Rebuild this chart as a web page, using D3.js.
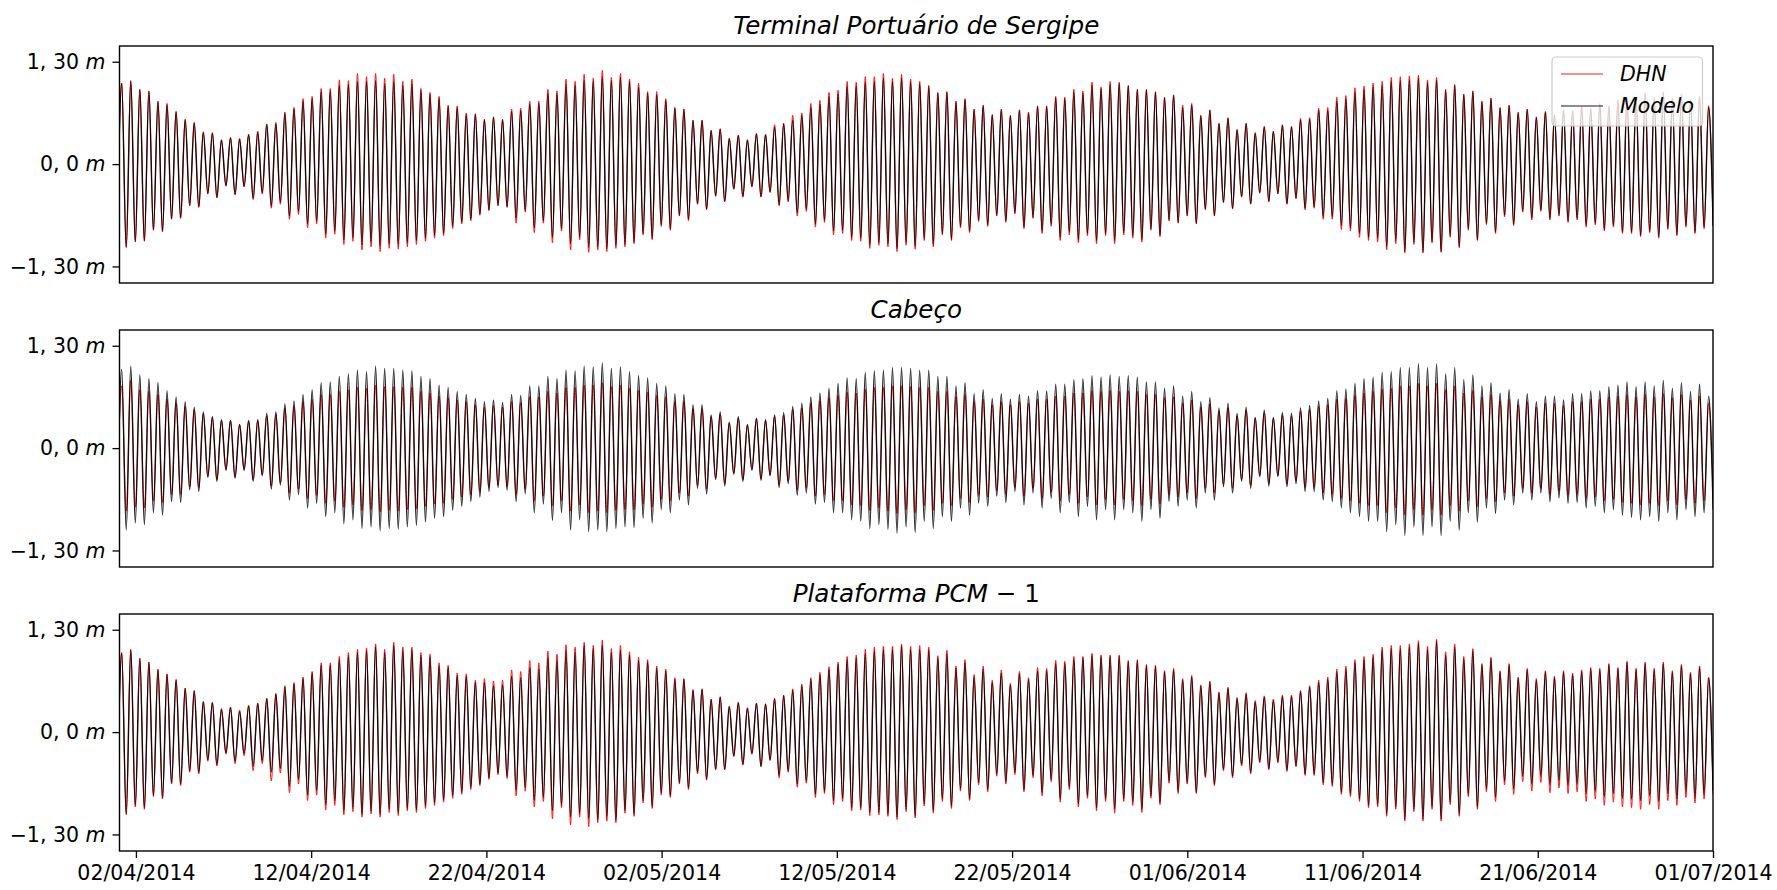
<!DOCTYPE html>
<html><head><meta charset="utf-8">
<script src="https://cdn.jsdelivr.net/npm/d3@7"></script>
<style>body{margin:0;background:#fff}svg{display:block}</style>
</head><body><svg id="c" width="1777" height="890"></svg>
<script>
// ---------------- DATA ----------------
const stationTitles = ["Terminal Portuário de Sergipe", "Cabeço", "Plataforma PCM − 1"];
const seriesNames = ["DHN", "Modelo"];
const yTickValues = [-1.3, 0, 1.3];
const yTickLabels = ["−1, 30 ", "0, 0 ", "1, 30 "];
const xTickLabels = ["02/04/2014","12/04/2014","22/04/2014","02/05/2014","12/05/2014","22/05/2014","01/06/2014","11/06/2014","21/06/2014","01/07/2014"];
const startTime = "2014-04-01T01:30:00";
const endTime = "2014-07-01T00:00:00";
const firstHighWater = "2014-04-01T04:30:00";
const tidalPeriodHours = 12.42;

// high waters (one per tidal cycle) and low waters (first one precedes the first high water)
const sergipeModeloHigh = [1.02,1.05,0.94,0.92,0.79,0.75,0.66,0.56,0.52,0.40,
0.39,0.30,0.33,0.31,0.37,0.40,0.50,0.51,0.64,0.70,
0.80,0.83,0.92,0.93,1.00,1.01,1.05,1.05,1.06,1.02,
1.05,1.00,1.02,0.93,0.88,0.83,0.73,0.72,0.63,0.63,
0.56,0.59,0.56,0.67,0.68,0.76,0.77,0.90,0.89,1.01,
1.00,1.06,1.05,1.11,1.06,1.10,1.05,0.98,0.90,0.88,
0.81,0.71,0.69,0.55,0.55,0.42,0.44,0.32,0.36,0.30,
0.38,0.37,0.47,0.51,0.56,0.62,0.72,0.76,0.85,0.89,
0.99,0.99,1.04,1.05,1.09,1.05,1.09,1.04,1.02,0.98,
0.90,0.91,0.79,0.82,0.69,0.74,0.62,0.69,0.61,0.68,
0.65,0.73,0.73,0.84,0.83,0.91,0.90,1.00,0.96,1.01,
1.02,0.99,0.94,0.94,0.91,0.84,0.87,0.72,0.75,0.61,
0.68,0.51,0.58,0.43,0.51,0.39,0.47,0.41,0.49,0.47,
0.56,0.57,0.68,0.68,0.80,0.82,0.91,0.94,0.98,1.00,
1.05,1.06,1.07,1.09,1.03,1.07,0.93,1.00,0.88,0.92,
0.79,0.83,0.71,0.74,0.65,0.69,0.59,0.66,0.62,0.68,
0.67,0.73,0.70,0.76,0.73,0.80,0.84,0.82,0.88,0.83,
0.90,0.82,0.87,0.80,0.84,0.72];
const sergipeModeloLow = [-0.90,
-1.05,-0.98,-0.97,-0.83,-0.85,-0.69,-0.68,-0.52,-0.54,-0.37,
-0.42,-0.27,-0.38,-0.28,-0.43,-0.36,-0.53,-0.48,-0.66,-0.60,
-0.76,-0.72,-0.89,-0.85,-0.96,-0.93,-1.02,-0.99,-1.04,-1.01,
-1.02,-1.00,-0.97,-0.94,-0.90,-0.88,-0.79,-0.74,-0.70,-0.63,
-0.58,-0.52,-0.54,-0.69,-0.59,-0.81,-0.72,-0.93,-0.82,-1.01,
-0.92,-1.06,-1.05,-1.07,-1.03,-1.02,-0.99,-0.88,-0.94,-0.77,
-0.82,-0.65,-0.70,-0.50,-0.57,-0.40,-0.47,-0.31,-0.41,-0.28,
-0.41,-0.35,-0.51,-0.46,-0.62,-0.57,-0.76,-0.71,-0.85,-0.84,
-0.93,-0.94,-1.02,-0.99,-1.01,-1.07,-0.99,-1.04,-0.94,-1.02,
-0.88,-0.95,-0.79,-0.85,-0.71,-0.77,-0.65,-0.72,-0.62,-0.80,
-0.67,-0.85,-0.76,-0.93,-0.86,-0.96,-0.88,-0.97,-0.88,-0.97,
-0.87,-0.91,-0.96,-0.82,-0.90,-0.71,-0.74,-0.65,-0.75,-0.57,
-0.65,-0.48,-0.56,-0.41,-0.50,-0.36,-0.47,-0.37,-0.50,-0.43,
-0.56,-0.54,-0.67,-0.67,-0.78,-0.81,-0.88,-0.93,-0.94,-1.05,
-0.97,-1.10,-0.99,-1.11,-0.98,-1.11,-0.91,-1.05,-0.82,-0.96,
-0.75,-0.86,-0.65,-0.76,-0.59,-0.69,-0.58,-0.69,-0.64,-0.72,
-0.69,-0.78,-0.75,-0.83,-0.78,-0.86,-0.86,-0.90,-0.85,-0.92,
-0.81,-0.89,-0.78,-0.86,-0.80,-0.78];
const sergipeDhnHigh = [1.03,1.06,0.95,0.93,0.80,0.77,0.67,0.57,0.53,0.41,
0.40,0.31,0.34,0.33,0.38,0.42,0.51,0.53,0.66,0.72,
0.83,0.86,0.96,0.96,1.07,1.06,1.15,1.11,1.15,1.09,
1.14,1.05,1.08,0.96,0.91,0.86,0.75,0.74,0.65,0.64,
0.57,0.60,0.57,0.70,0.71,0.80,0.80,0.95,0.93,1.08,
1.05,1.14,1.09,1.19,1.10,1.15,1.08,1.03,0.92,0.92,
0.83,0.72,0.70,0.56,0.56,0.43,0.45,0.33,0.37,0.31,
0.39,0.38,0.50,0.52,0.62,0.65,0.77,0.81,0.91,0.94,
1.05,1.04,1.11,1.11,1.15,1.09,1.14,1.08,1.05,1.00,
0.91,0.92,0.80,0.83,0.70,0.75,0.63,0.70,0.62,0.69,
0.66,0.74,0.74,0.86,0.85,0.95,0.93,1.04,0.98,1.05,
1.04,1.00,0.95,0.95,0.92,0.85,0.88,0.75,0.77,0.62,
0.69,0.52,0.59,0.44,0.52,0.40,0.48,0.42,0.50,0.48,
0.58,0.59,0.71,0.72,0.85,0.87,0.97,0.99,1.03,1.05,
1.10,1.11,1.12,1.13,1.07,1.10,0.95,1.01,0.89,0.93,
0.80,0.84,0.72,0.75,0.66,0.70,0.60,0.67,0.63,0.69,
0.68,0.74,0.71,0.77,0.74,0.81,0.85,0.84,0.90,0.85,
0.92,0.84,0.89,0.82,0.86,0.74];
const sergipeDhnLow = [-0.91,
-1.06,-0.99,-0.98,-0.84,-0.86,-0.70,-0.69,-0.53,-0.55,-0.38,
-0.43,-0.28,-0.39,-0.29,-0.45,-0.38,-0.56,-0.51,-0.70,-0.64,
-0.81,-0.76,-0.94,-0.89,-1.02,-0.98,-1.09,-1.05,-1.11,-1.07,
-1.08,-1.05,-1.02,-0.98,-0.94,-0.91,-0.82,-0.76,-0.72,-0.65,
-0.59,-0.53,-0.55,-0.75,-0.61,-0.87,-0.75,-1.00,-0.85,-1.09,
-0.96,-1.12,-1.09,-1.11,-1.07,-1.05,-1.01,-0.90,-0.96,-0.79,
-0.84,-0.66,-0.72,-0.51,-0.58,-0.41,-0.48,-0.32,-0.42,-0.29,
-0.42,-0.36,-0.53,-0.48,-0.66,-0.60,-0.80,-0.74,-0.90,-0.88,
-0.97,-0.98,-1.07,-1.03,-1.05,-1.11,-1.03,-1.08,-0.97,-1.05,
-0.90,-0.97,-0.81,-0.87,-0.73,-0.79,-0.66,-0.74,-0.63,-0.82,
-0.69,-0.88,-0.79,-0.97,-0.90,-1.00,-0.91,-1.01,-0.91,-1.01,
-0.90,-0.94,-0.99,-0.84,-0.92,-0.72,-0.75,-0.66,-0.76,-0.58,
-0.66,-0.49,-0.57,-0.42,-0.51,-0.37,-0.48,-0.38,-0.51,-0.44,
-0.58,-0.56,-0.70,-0.70,-0.83,-0.85,-0.93,-0.97,-0.99,-1.09,
-1.01,-1.13,-1.02,-1.13,-1.00,-1.12,-0.93,-1.06,-0.84,-0.97,
-0.77,-0.88,-0.67,-0.78,-0.61,-0.71,-0.60,-0.71,-0.66,-0.74,
-0.71,-0.80,-0.77,-0.85,-0.80,-0.88,-0.88,-0.92,-0.87,-0.94,
-0.83,-0.91,-0.80,-0.88,-0.82,-0.80];

const cabecoModeloHigh = [1.00,1.04,0.93,0.88,0.83,0.73,0.65,0.59,0.52,0.46,
0.40,0.36,0.35,0.30,0.35,0.36,0.44,0.46,0.56,0.60,
0.68,0.74,0.83,0.84,0.91,0.94,0.99,0.97,1.04,1.01,
1.01,0.99,0.98,0.91,0.88,0.80,0.77,0.72,0.68,0.63,
0.59,0.61,0.58,0.68,0.67,0.79,0.79,0.91,0.88,0.99,
0.98,1.04,1.03,1.08,1.01,1.03,0.97,0.92,0.89,0.82,
0.79,0.69,0.68,0.55,0.55,0.42,0.46,0.33,0.40,0.30,
0.38,0.36,0.42,0.45,0.53,0.57,0.65,0.70,0.76,0.82,
0.89,0.88,0.96,0.98,0.99,1.02,1.02,1.01,0.99,0.99,
0.91,0.91,0.79,0.83,0.69,0.74,0.63,0.69,0.62,0.68,
0.66,0.73,0.73,0.81,0.81,0.87,0.88,0.92,0.90,0.93,
0.91,0.92,0.90,0.84,0.84,0.76,0.79,0.66,0.72,0.59,
0.64,0.51,0.57,0.44,0.52,0.39,0.48,0.39,0.45,0.44,
0.51,0.54,0.60,0.63,0.73,0.75,0.82,0.88,0.90,0.96,
0.97,1.02,1.02,1.07,1.02,1.07,0.94,1.02,0.87,0.93,
0.79,0.83,0.70,0.74,0.62,0.69,0.59,0.66,0.66,0.61,
0.69,0.69,0.73,0.73,0.78,0.80,0.84,0.78,0.84,0.79,
0.86,0.76,0.83,0.72,0.81,0.66];
const cabecoModeloLow = [-0.90,
-1.04,-0.95,-0.97,-0.82,-0.85,-0.68,-0.69,-0.53,-0.55,-0.37,
-0.42,-0.28,-0.38,-0.28,-0.42,-0.35,-0.52,-0.47,-0.66,-0.59,
-0.76,-0.70,-0.87,-0.82,-0.96,-0.91,-1.02,-1.00,-1.05,-1.02,
-1.03,-1.00,-0.98,-0.94,-0.89,-0.87,-0.79,-0.74,-0.68,-0.62,
-0.55,-0.50,-0.53,-0.68,-0.58,-0.82,-0.71,-0.92,-0.82,-1.04,
-0.91,-1.06,-1.04,-1.06,-1.02,-1.00,-1.01,-0.89,-0.95,-0.78,
-0.82,-0.66,-0.72,-0.51,-0.58,-0.40,-0.48,-0.33,-0.42,-0.28,
-0.41,-0.35,-0.50,-0.45,-0.60,-0.57,-0.71,-0.69,-0.82,-0.82,
-0.91,-0.93,-1.02,-0.97,-1.03,-1.08,-1.00,-1.07,-0.93,-1.02,
-0.87,-0.93,-0.76,-0.85,-0.70,-0.74,-0.61,-0.69,-0.55,-0.72,
-0.57,-0.76,-0.64,-0.82,-0.69,-0.87,-0.74,-0.91,-0.78,-0.91,
-0.78,-0.82,-0.93,-0.78,-0.89,-0.68,-0.74,-0.66,-0.76,-0.57,
-0.66,-0.49,-0.57,-0.42,-0.51,-0.36,-0.48,-0.36,-0.49,-0.45,
-0.55,-0.55,-0.66,-0.68,-0.76,-0.82,-0.87,-0.93,-0.93,-1.06,
-0.97,-1.11,-1.00,-1.11,-1.00,-1.11,-0.93,-1.04,-0.82,-0.94,
-0.76,-0.83,-0.66,-0.72,-0.57,-0.66,-0.57,-0.68,-0.63,-0.70,
-0.69,-0.76,-0.74,-0.82,-0.78,-0.85,-0.88,-0.91,-0.87,-0.93,
-0.82,-0.91,-0.78,-0.87,-0.82,-0.78];
const cabecoDhnHigh = [0.79,0.86,0.74,0.72,0.68,0.62,0.57,0.53,0.49,0.44,
0.39,0.35,0.35,0.30,0.34,0.35,0.41,0.43,0.51,0.53,
0.59,0.62,0.68,0.68,0.72,0.74,0.77,0.76,0.80,0.78,
0.78,0.77,0.77,0.72,0.70,0.66,0.64,0.61,0.59,0.55,
0.52,0.54,0.52,0.59,0.58,0.65,0.65,0.72,0.70,0.77,
0.77,0.80,0.80,0.83,0.78,0.80,0.76,0.73,0.71,0.67,
0.65,0.59,0.59,0.50,0.50,0.40,0.43,0.32,0.38,0.29,
0.37,0.35,0.40,0.42,0.49,0.51,0.57,0.60,0.64,0.67,
0.71,0.70,0.75,0.77,0.77,0.79,0.79,0.78,0.77,0.77,
0.72,0.72,0.65,0.68,0.59,0.62,0.55,0.59,0.55,0.59,
0.57,0.62,0.62,0.66,0.66,0.70,0.70,0.73,0.72,0.73,
0.72,0.73,0.72,0.68,0.68,0.64,0.65,0.57,0.61,0.52,
0.56,0.47,0.51,0.41,0.48,0.38,0.45,0.38,0.42,0.41,
0.47,0.49,0.53,0.55,0.62,0.63,0.67,0.70,0.72,0.75,
0.76,0.79,0.79,0.82,0.79,0.82,0.74,0.79,0.70,0.73,
0.65,0.68,0.60,0.62,0.55,0.59,0.52,0.57,0.57,0.54,
0.59,0.59,0.62,0.62,0.65,0.66,0.68,0.65,0.68,0.65,
0.69,0.64,0.68,0.61,0.66,0.57];
const cabecoDhnLow = [-0.72,
-0.80,-0.75,-0.76,-0.67,-0.69,-0.59,-0.59,-0.49,-0.50,-0.36,
-0.40,-0.27,-0.37,-0.27,-0.40,-0.34,-0.48,-0.44,-0.57,-0.52,
-0.64,-0.60,-0.70,-0.67,-0.75,-0.72,-0.79,-0.78,-0.81,-0.79,
-0.80,-0.78,-0.77,-0.74,-0.71,-0.70,-0.65,-0.62,-0.59,-0.55,
-0.50,-0.47,-0.49,-0.59,-0.52,-0.67,-0.61,-0.73,-0.67,-0.80,
-0.72,-0.82,-0.80,-0.82,-0.79,-0.78,-0.78,-0.71,-0.75,-0.65,
-0.67,-0.57,-0.61,-0.47,-0.52,-0.38,-0.45,-0.32,-0.40,-0.27,
-0.39,-0.34,-0.47,-0.42,-0.53,-0.51,-0.61,-0.59,-0.67,-0.67,
-0.72,-0.73,-0.79,-0.76,-0.80,-0.83,-0.78,-0.82,-0.73,-0.79,
-0.70,-0.73,-0.64,-0.69,-0.60,-0.62,-0.54,-0.59,-0.50,-0.61,
-0.51,-0.64,-0.56,-0.67,-0.59,-0.70,-0.62,-0.72,-0.65,-0.72,
-0.65,-0.67,-0.73,-0.65,-0.71,-0.59,-0.62,-0.57,-0.64,-0.51,
-0.57,-0.46,-0.51,-0.40,-0.47,-0.35,-0.45,-0.35,-0.46,-0.42,
-0.50,-0.50,-0.57,-0.59,-0.64,-0.67,-0.70,-0.73,-0.73,-0.82,
-0.76,-0.85,-0.78,-0.85,-0.78,-0.85,-0.73,-0.80,-0.67,-0.74,
-0.64,-0.68,-0.57,-0.61,-0.51,-0.57,-0.51,-0.59,-0.55,-0.60,
-0.59,-0.64,-0.62,-0.67,-0.65,-0.69,-0.70,-0.72,-0.70,-0.73,
-0.67,-0.72,-0.65,-0.70,-0.67,-0.65];

const pcmModeloHigh = [1.00,1.04,0.93,0.88,0.79,0.73,0.66,0.55,0.52,0.38,
0.37,0.28,0.31,0.26,0.33,0.36,0.42,0.48,0.57,0.61,
0.68,0.75,0.85,0.85,0.92,0.97,1.01,1.03,1.08,1.01,
1.10,1.04,1.04,0.97,0.95,0.84,0.82,0.72,0.71,0.63,
0.63,0.59,0.60,0.71,0.69,0.82,0.80,0.95,0.91,1.03,
1.01,1.10,1.06,1.11,1.01,1.04,0.98,0.91,0.89,0.81,
0.78,0.67,0.67,0.53,0.54,0.41,0.44,0.32,0.37,0.30,
0.36,0.35,0.42,0.46,0.53,0.59,0.67,0.73,0.80,0.86,
0.92,0.94,1.00,1.03,1.05,1.05,1.09,1.05,1.05,1.04,
0.94,0.99,0.81,0.88,0.70,0.80,0.63,0.75,0.60,0.74,
0.67,0.78,0.78,0.87,0.87,0.93,0.94,0.97,0.96,0.96,
0.96,0.89,0.90,0.84,0.83,0.76,0.79,0.66,0.70,0.58,
0.63,0.49,0.55,0.42,0.48,0.38,0.44,0.40,0.45,0.45,
0.51,0.57,0.63,0.67,0.76,0.80,0.88,0.92,0.95,1.04,
1.06,1.06,1.08,1.13,1.05,1.15,0.98,1.08,0.93,1.03,
0.85,0.93,0.76,0.85,0.68,0.79,0.66,0.76,0.69,0.76,
0.73,0.77,0.80,0.79,0.85,0.80,0.88,0.79,0.87,0.79,
0.87,0.76,0.84,0.74,0.82,0.68];
const pcmModeloLow = [-0.90,
-1.03,-0.93,-0.96,-0.80,-0.83,-0.64,-0.66,-0.49,-0.51,-0.35,
-0.41,-0.26,-0.37,-0.27,-0.43,-0.36,-0.51,-0.46,-0.69,-0.60,
-0.80,-0.74,-0.92,-0.87,-1.00,-0.96,-1.04,-1.00,-1.04,-0.98,
-1.03,-0.97,-0.99,-0.94,-0.90,-0.86,-0.81,-0.76,-0.70,-0.66,
-0.58,-0.52,-0.56,-0.74,-0.70,-0.87,-0.83,-1.00,-0.92,-1.08,
-1.03,-1.10,-1.12,-1.08,-1.12,-0.99,-1.04,-0.87,-0.94,-0.77,
-0.81,-0.64,-0.71,-0.51,-0.59,-0.47,-0.47,-0.30,-0.41,-0.27,
-0.43,-0.35,-0.55,-0.49,-0.66,-0.62,-0.79,-0.75,-0.87,-0.84,
-0.96,-0.96,-1.02,-1.02,-1.04,-1.08,-0.98,-1.06,-0.91,-1.00,
-0.85,-0.94,-0.72,-0.84,-0.64,-0.73,-0.53,-0.63,-0.51,-0.73,
-0.55,-0.77,-0.60,-0.85,-0.70,-0.91,-0.81,-0.96,-0.85,-0.98,
-0.85,-0.89,-0.98,-0.81,-0.89,-0.62,-0.75,-0.64,-0.76,-0.56,
-0.66,-0.47,-0.56,-0.41,-0.51,-0.37,-0.46,-0.37,-0.48,-0.42,
-0.53,-0.53,-0.64,-0.66,-0.76,-0.79,-0.85,-0.93,-0.92,-1.04,
-0.95,-1.10,-0.98,-1.10,-0.95,-1.10,-0.89,-1.04,-0.79,-0.95,
-0.72,-0.83,-0.62,-0.72,-0.56,-0.66,-0.56,-0.67,-0.62,-0.68,
-0.66,-0.78,-0.75,-0.82,-0.78,-0.84,-0.85,-0.87,-0.81,-0.88,
-0.78,-0.85,-0.75,-0.83,-0.79,-0.75];
const pcmDhnHigh = [1.01,1.05,0.94,0.89,0.80,0.74,0.67,0.56,0.53,0.39,
0.38,0.30,0.32,0.28,0.34,0.37,0.43,0.49,0.59,0.63,
0.70,0.77,0.88,0.88,0.96,1.01,1.05,1.07,1.12,1.05,
1.14,1.08,1.08,1.01,0.99,0.88,0.85,0.75,0.74,0.66,
0.68,0.65,0.66,0.79,0.77,0.91,0.88,1.03,0.99,1.11,
1.08,1.14,1.10,1.17,1.06,1.10,1.02,0.95,0.92,0.84,
0.80,0.69,0.68,0.54,0.55,0.42,0.45,0.33,0.38,0.31,
0.37,0.36,0.43,0.47,0.55,0.61,0.69,0.76,0.83,0.89,
0.96,0.98,1.05,1.08,1.09,1.09,1.12,1.09,1.10,1.08,
0.97,1.04,0.84,0.92,0.73,0.84,0.66,0.79,0.62,0.77,
0.69,0.82,0.81,0.91,0.90,0.96,0.96,1.00,0.98,0.98,
0.98,0.91,0.92,0.86,0.85,0.78,0.81,0.68,0.72,0.60,
0.65,0.51,0.57,0.44,0.50,0.40,0.46,0.42,0.47,0.47,
0.53,0.59,0.66,0.70,0.80,0.84,0.92,0.96,0.99,1.08,
1.10,1.10,1.12,1.16,1.09,1.18,1.02,1.12,0.96,1.06,
0.87,0.95,0.78,0.87,0.70,0.81,0.68,0.78,0.71,0.78,
0.75,0.79,0.82,0.81,0.87,0.82,0.90,0.81,0.89,0.81,
0.89,0.78,0.86,0.76,0.84,0.70];
const pcmDhnLow = [-0.92,
-1.05,-0.95,-0.98,-0.82,-0.85,-0.66,-0.68,-0.51,-0.53,-0.37,
-0.43,-0.28,-0.40,-0.30,-0.49,-0.40,-0.62,-0.52,-0.77,-0.66,
-0.87,-0.80,-0.99,-0.93,-1.05,-1.01,-1.08,-1.04,-1.08,-1.02,
-1.06,-1.00,-1.02,-0.97,-0.93,-0.89,-0.84,-0.79,-0.73,-0.68,
-0.60,-0.54,-0.59,-0.81,-0.75,-0.95,-0.88,-1.10,-0.96,-1.18,
-1.08,-1.20,-1.15,-1.13,-1.15,-1.03,-1.07,-0.90,-0.97,-0.80,
-0.83,-0.66,-0.73,-0.53,-0.61,-0.48,-0.48,-0.31,-0.42,-0.28,
-0.44,-0.36,-0.58,-0.51,-0.70,-0.65,-0.83,-0.78,-0.92,-0.88,
-1.00,-0.99,-1.06,-1.05,-1.07,-1.11,-1.01,-1.09,-0.94,-1.03,
-0.88,-0.97,-0.75,-0.87,-0.67,-0.76,-0.56,-0.66,-0.54,-0.76,
-0.58,-0.81,-0.63,-0.89,-0.73,-0.95,-0.84,-1.00,-0.88,-1.03,
-0.88,-0.93,-1.02,-0.84,-0.92,-0.65,-0.78,-0.66,-0.78,-0.58,
-0.68,-0.49,-0.58,-0.43,-0.53,-0.39,-0.48,-0.39,-0.50,-0.44,
-0.55,-0.55,-0.67,-0.69,-0.79,-0.82,-0.88,-0.96,-0.95,-1.07,
-0.98,-1.13,-1.01,-1.13,-0.98,-1.13,-0.92,-1.07,-0.82,-0.98,
-0.76,-0.88,-0.67,-0.79,-0.63,-0.75,-0.64,-0.77,-0.71,-0.78,
-0.76,-0.88,-0.85,-0.93,-0.89,-0.95,-0.96,-0.98,-0.92,-0.98,
-0.87,-0.93,-0.83,-0.90,-0.85,-0.80];

// ---------------- CHART ----------------
const panelData = [
  {dhn: [sergipeDhnHigh, sergipeDhnLow], modelo: [sergipeModeloHigh, sergipeModeloLow]},
  {dhn: [cabecoDhnHigh, cabecoDhnLow], modelo: [cabecoModeloHigh, cabecoModeloLow]},
  {dhn: [pcmDhnHigh, pcmDhnLow], modelo: [pcmModeloHigh, pcmModeloLow]}
];

const svg = d3.select("#c");
const FONT = "'DejaVu Sans', sans-serif";
const L = 119.5, R = 1713;
const panelTops = [46, 330, 614];
const PH = 237;
const parseTick = d3.timeParse("%d/%m/%Y");

const x = d3.scaleTime().domain([new Date(startTime), new Date(endTime)]).range([L, R]);

function buildPoints(highs, lows) {
  const t0 = new Date(firstHighWater).getTime();
  const P = tidalPeriodHours * 3600e3;
  const pts = [];
  for (let i = 0; i < lows.length; i++) {
    pts.push({t: new Date(t0 + (i - 0.5) * P), v: lows[i]});
    if (i < highs.length) pts.push({t: new Date(t0 + i * P), v: highs[i]});
  }
  return pts;
}

const dhnStyle = {color: "#ff0000", op: 1, w: 0.9};
const modeloStyle = {color: "#000", op: 0.88, w: 1.45};

panelData.forEach((pd, pi) => {
  const top = panelTops[pi];
  const y = d3.scaleLinear().domain([-1.51, 1.50]).range([top + PH, top]);
  const g = svg.append("g");

  const clipId = "clip" + pi;
  svg.append("clipPath").attr("id", clipId).append("rect")
    .attr("x", L).attr("y", top).attr("width", R - L).attr("height", PH);

  const line = d3.line().x(d => x(d.t)).y(d => y(d.v)).curve(d3.curveMonotoneX);
  const lg = g.append("g").attr("clip-path", `url(#${clipId})`);
  lg.append("path").datum(buildPoints(pd.dhn[0], pd.dhn[1]))
    .attr("d", line).attr("fill", "none").attr("stroke", dhnStyle.color)
    .attr("stroke-opacity", dhnStyle.op).attr("stroke-width", dhnStyle.w);
  lg.append("path").datum(buildPoints(pd.modelo[0], pd.modelo[1]))
    .attr("d", line).attr("fill", "none").attr("stroke", modeloStyle.color)
    .attr("stroke-opacity", modeloStyle.op).attr("stroke-width", modeloStyle.w);

  // y axis
  const yAx = g.append("g").attr("transform", `translate(${L},0)`)
    .call(d3.axisLeft(y).tickValues(yTickValues).tickSize(7).tickPadding(7).tickFormat(() => ""));
  yAx.select(".domain").remove();
  yAx.attr("font-family", FONT).attr("font-size", 20.5);
  yAx.selectAll(".tick line").attr("stroke", "#000").attr("stroke-width", 1.3);
  yAx.selectAll(".tick text").each(function (d) {
    const t = d3.select(this).attr("fill", "#000");
    const idx = yTickValues.indexOf(d);
    t.append("tspan").text(yTickLabels[idx]);
    t.append("tspan").attr("font-style", "italic").text("m");
  });

  // frame
  g.append("rect").attr("x", L).attr("y", top).attr("width", R - L).attr("height", PH)
    .attr("fill", "none").attr("stroke", "#000").attr("stroke-width", 1.4);

  // title
  const title = g.append("text").attr("x", (L + R) / 2).attr("y", top - 12.5)
    .attr("text-anchor", "middle").attr("font-family", FONT).attr("font-size", 24.6)
    .attr("font-style", "italic").attr("fill", "#000");
  if (pi === 2) {
    title.append("tspan").text("Plataforma PCM − ");
    title.append("tspan").attr("font-style", "normal").text("1");
  } else {
    title.text(stationTitles[pi]);
  }

  // x axis on last panel
  if (pi === 2) {
    const xAx = g.append("g").attr("transform", `translate(0,${top + PH})`)
      .call(d3.axisBottom(x).tickValues(xTickLabels.map(parseTick)).tickSize(7).tickPadding(7)
        .tickFormat(d3.timeFormat("%d/%m/%Y")));
    xAx.select(".domain").remove();
    xAx.attr("font-family", FONT).attr("font-size", 20.5);
    xAx.selectAll(".tick line").attr("stroke", "#000").attr("stroke-width", 1.3);
    xAx.selectAll(".tick text").attr("fill", "#000");
  }

  // legend on first panel
  if (pi === 0) {
    const leg = g.append("g");
    leg.append("rect").attr("x", 1552).attr("y", 57).attr("width", 150.5).attr("height", 69)
      .attr("rx", 4).attr("fill", "#fff").attr("fill-opacity", 0.8)
      .attr("stroke", "#cccccc").attr("stroke-width", 1.2);
    const entries = [
      {name: seriesNames[0], s: dhnStyle, yy: 74},
      {name: seriesNames[1], s: {color: "#000", op: 0.6, w: 1.45}, yy: 106}
    ];
    entries.forEach(e => {
      leg.append("line").attr("x1", 1561).attr("x2", 1603).attr("y1", e.yy).attr("y2", e.yy)
        .attr("stroke", e.s.color).attr("stroke-opacity", e.s.op).attr("stroke-width", e.s.w);
      leg.append("text").attr("x", 1620).attr("y", e.yy + 7.4).attr("font-family", FONT)
        .attr("font-size", 20.5).attr("font-style", "italic").attr("fill", "#000").text(e.name);
    });
  }
});
</script>
</body></html>
